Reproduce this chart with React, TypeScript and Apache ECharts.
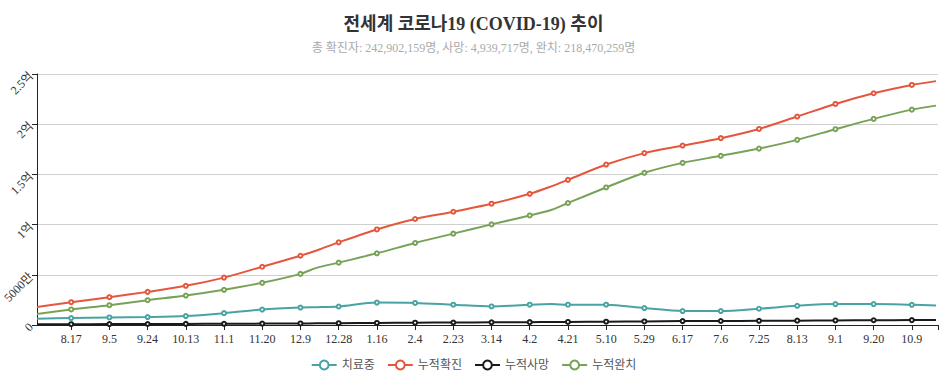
import React, { useEffect, useRef } from "react";
import * as echarts from "echarts";

// day index counted from 2020-07-29 (day 0)
const DAYS = [2, 19, 38, 57, 76, 95, 114, 133, 141, 152, 171, 190, 209, 228, 247, 258, 266, 285, 304, 323, 342, 361, 380, 399, 418, 437, 449];

// values in millions (백만)
const ACTIVE = [6.2, 6.9, 7.5, 7.9, 8.9, 11.8, 15.4, 17.4, 17.7, 18.4, 22.3, 22.0, 20.2, 18.5, 20.2, 20.8, 20.2, 20.2, 16.9, 13.9, 13.9, 16.2, 19.1, 20.8, 20.8, 20.1, 19.5];
const CONFIRMED = [17.9, 22.7, 27.7, 33.0, 39.0, 47.2, 58.0, 69.0, 74.2, 82.3, 95.2, 105.6, 112.8, 120.8, 130.7, 138.3, 144.6, 159.8, 171.2, 178.7, 186.1, 195.3, 207.6, 220.2, 230.8, 239.1, 242.9];
const DEATHS = [0.67, 0.78, 0.88, 0.99, 1.09, 1.21, 1.37, 1.57, 1.66, 1.79, 2.05, 2.29, 2.49, 2.65, 2.85, 2.97, 3.07, 3.32, 3.55, 3.87, 3.99, 4.15, 4.35, 4.56, 4.74, 4.86, 4.94];
const RECOVERED = [10.9, 15.5, 19.7, 24.7, 29.3, 35.0, 42.0, 50.9, 56.9, 62.1, 71.4, 81.7, 91.0, 100.2, 109.1, 114.8, 121.5, 137.0, 151.6, 161.5, 168.5, 175.7, 184.4, 195.0, 205.3, 214.5, 218.5];

const TICK_DAYS = [19, 38, 57, 76, 95, 114, 133, 152, 171, 190, 209, 228, 247, 266, 285, 304, 323, 342, 361, 380, 399, 418, 437];
const TICK_LABELS = ["8.17", "9.5", "9.24", "10.13", "11.1", "11.20", "12.9", "12.28", "1.16", "2.4", "2.23", "3.14", "4.2", "4.21", "5.10", "5.29", "6.17", "7.6", "7.25", "8.13", "9.1", "9.20", "10.9"];

const SERIES_NAMES = ["치료중", "누적확진", "누적사망", "누적완치"];
const COLORS = ["#4aa3a3", "#e4573d", "#1a1a1a", "#78a257"];

const FONT = "'Liberation Serif', 'Noto Sans CJK KR', serif";

export default function App() {
  const ref = useRef<HTMLDivElement>(null);

  useEffect(() => {
    if (!ref.current) return;
    const chart = echarts.init(ref.current, undefined, { renderer: "svg" });
    const all = [ACTIVE, CONFIRMED, DEATHS, RECOVERED];
    const series = all.map((vals, si) => ({
      name: SERIES_NAMES[si],
      type: "line",
      smooth: 0.3,
      showAllSymbol: true,
      symbolSize: 4,
      data: DAYS.map((d, i) => ({
        value: [d, vals[i]],
        symbol: TICK_DAYS.indexOf(d) >= 0 ? "emptyCircle" : "none",
      })),
      lineStyle: { width: 2, color: COLORS[si] },
      itemStyle: { color: COLORS[si], borderWidth: 1 },
      z: si === 2 ? 3 : 2,
    }));

    chart.setOption({
      animation: false,
      backgroundColor: "#fff",
      textStyle: { fontFamily: FONT },
      color: COLORS,
      title: {
        text: "전세계 코로나19 (COVID-19) 추이",
        subtext: "총 확진자: 242,902,159명, 사망: 4,939,717명, 완치: 218,470,259명",
        left: "center",
        top: 10,
        itemGap: 9,
        textStyle: { fontSize: 18, fontWeight: "bold", color: "#333", fontFamily: FONT },
        subtextStyle: { fontSize: 12, color: "#aaa", fontFamily: FONT },
      },
      legend: {
        bottom: 5,
        left: "center",
        itemWidth: 25,
        itemHeight: 11,
        itemGap: 12,
        textStyle: { fontSize: 12, color: "#555", fontFamily: FONT },
        data: SERIES_NAMES,
      },
      grid: { left: 37, right: 9, top: 74, bottom: 56, containLabel: false, outerBoundsMode: "none" },
      xAxis: {
        type: "value",
        min: 2,
        max: 450,
        axisLine: { show: true, lineStyle: { color: "#222", width: 1 } },
        axisTick: { show: true, length: 5, customValues: [...TICK_DAYS, 450], lineStyle: { color: "#222" } },
        axisLabel: {
          customValues: TICK_DAYS,
          color: "#333",
          fontSize: 12,
          fontFamily: FONT,
          margin: 8,
          formatter: (v: number) => {
            const i = TICK_DAYS.indexOf(Math.round(v));
            return i >= 0 ? TICK_LABELS[i] : "";
          },
        },
        splitLine: { show: false },
      },
      yAxis: {
        type: "value",
        min: 0,
        max: 250,
        interval: 50,
        axisLine: { show: true, lineStyle: { color: "#222", width: 1 } },
        axisTick: { show: true, length: 5, lineStyle: { color: "#222" } },
        axisLabel: {
          rotate: 45,
          color: "#333",
          fontSize: 12,
          fontFamily: FONT,
          margin: 6,
          formatter: (v: number) => {
            if (v === 0) return "0";
            if (v < 100) return `${v * 100}만`;
            return `${v / 100}억`;
          },
        },
        splitLine: { show: true, lineStyle: { color: "#d0d0d0", width: 1 } },
      },
      series,
    });

    return () => chart.dispose();
  }, []);

  return (
    <div
      ref={ref}
      style={{ position: "fixed", left: 0, top: 0, width: 947, height: 381, background: "#fff" }}
    />
  );
}
